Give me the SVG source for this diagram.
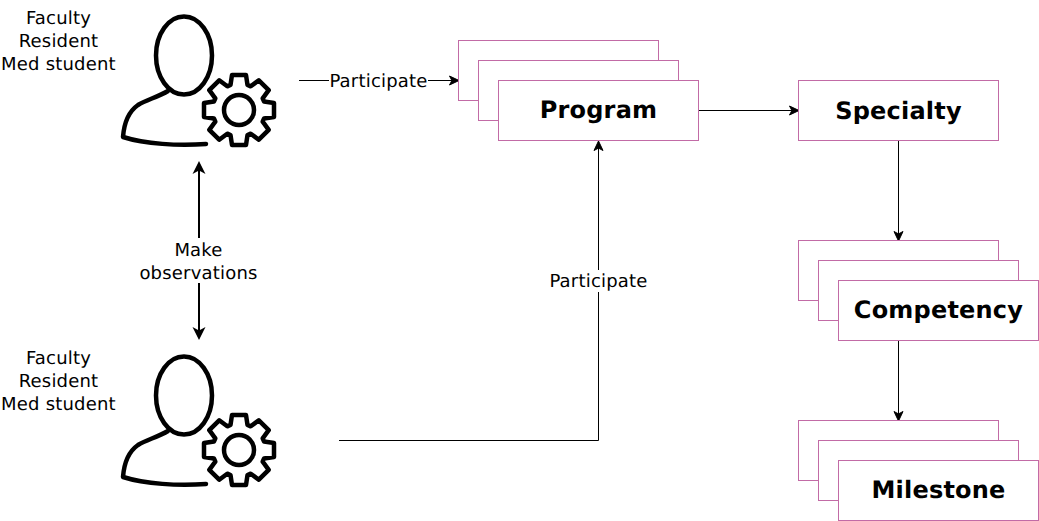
<svg xmlns="http://www.w3.org/2000/svg" width="1039" height="521" viewBox="0 0 1039 521">
<style>
.box{fill:#fff;stroke:#c26ba6;stroke-width:1}
.edge{fill:none;stroke:#000;stroke-width:1}
.thick{stroke-width:2}
.icon{fill:none;stroke:#000;stroke-width:4.5;stroke-linecap:round;stroke-linejoin:round}
text{font-family:"DejaVu Sans",sans-serif;fill:#000;text-anchor:middle;text-rendering:geometricPrecision;letter-spacing:.2px}
.lbl{font-size:18px}
.ttl{font-size:24px;font-weight:bold}
</style>
<defs>
<marker id="ah" markerWidth="12" markerHeight="12" refX="10.5" refY="5" orient="auto-start-reverse" markerUnits="userSpaceOnUse" viewBox="0 0 12 10"><path d="M1 0.5L10.5 5L1 9.5L3.4 5Z" fill="#000" stroke="#000" stroke-width="1"/></marker>
<marker id="ah2" markerWidth="14" markerHeight="14" refX="10" refY="7" orient="auto-start-reverse" markerUnits="userSpaceOnUse" viewBox="0 0 14 14"><path d="M0 0.500L13 7L0 13.500L3.500 7Z" fill="#000"/></marker>
<g id="person">
<ellipse cx="184" cy="55.500" rx="28" ry="39" class="icon"/>
<path class="icon" d="M168 91C158 97 146 100 138 105C128 112 124 124 123 137C145 144 178 146 206 144"/>
<path class="icon" d="M274 103V117L264 118.500L262.700 121.700L268.700 129.800L258.800 139.700L250.700 133.700L247.500 135L246 145H232L230.500 135L227.300 133.700L219.200 139.700L209.300 129.800L215.300 121.700L214 118.500L204 117V103L214 101.500L215.300 98.300L209.300 90.200L219.200 80.300L227.300 86.300L230.500 85L232 75H246L247.500 85L250.700 86.300L258.800 80.300L268.700 90.200L262.700 98.300L264 101.500Z"/>
<circle cx="239" cy="110" r="15" class="icon"/>
</g>
</defs>
<g id="connectors">
<path class="edge" d="M299 80.500H459" marker-end="url(#ah)"/>
<path class="edge" d="M339 440.500H598.500V141" marker-end="url(#ah)"/>
<path class="edge" d="M699 110.500H799" marker-end="url(#ah)"/>
<path class="edge" d="M898.500 141V241" marker-end="url(#ah)"/>
<path class="edge" d="M898.500 341V421" marker-end="url(#ah)"/>
<path class="edge thick" d="M199 164V337" marker-start="url(#ah2)" marker-end="url(#ah2)"/>
<rect x="329" y="70" width="99" height="22" fill="#fff"/>
<rect x="550" y="270" width="98" height="22" fill="#fff"/>
<rect x="138" y="238" width="121" height="45" fill="#fff"/>
<text class="lbl" x="378.500" y="87">Participate</text>
<text class="lbl" x="598.500" y="287">Participate</text>
<text class="lbl" x="198.500" y="256">Make</text>
<text class="lbl" x="198.500" y="279">observations</text>
</g>
<g id="user-top">
<use href="#person"/>
<text class="lbl" x="58.500" y="24">Faculty</text>
<text class="lbl" x="58.500" y="47">Resident</text>
<text class="lbl" x="58.500" y="70">Med student</text>
</g>
<g id="user-bottom">
<use href="#person" y="340"/>
<text class="lbl" x="58.500" y="364">Faculty</text>
<text class="lbl" x="58.500" y="387">Resident</text>
<text class="lbl" x="58.500" y="410">Med student</text>
</g>
<g id="program">
<rect class="box" x="458.500" y="40.500" width="200" height="60"/>
<rect class="box" x="478.500" y="60.500" width="200" height="60"/>
<rect class="box" x="498.500" y="80.500" width="200" height="60"/>
<text class="ttl" x="598.500" y="118">Program</text>
</g>
<g id="specialty">
<rect class="box" x="798.500" y="80.500" width="200" height="60"/>
<text class="ttl" x="898.500" y="119">Specialty</text>
</g>
<g id="competency">
<rect class="box" x="798.500" y="240.500" width="200" height="60"/>
<rect class="box" x="818.500" y="260.500" width="200" height="60"/>
<rect class="box" x="838.500" y="280.500" width="200" height="60"/>
<text class="ttl" x="938.500" y="318">Competency</text>
</g>
<g id="milestone">
<rect class="box" x="798.500" y="420.500" width="200" height="60"/>
<rect class="box" x="818.500" y="440.500" width="200" height="60"/>
<rect class="box" x="838.500" y="460.500" width="200" height="60"/>
<text class="ttl" x="938.500" y="498">Milestone</text>
</g>
</svg>
